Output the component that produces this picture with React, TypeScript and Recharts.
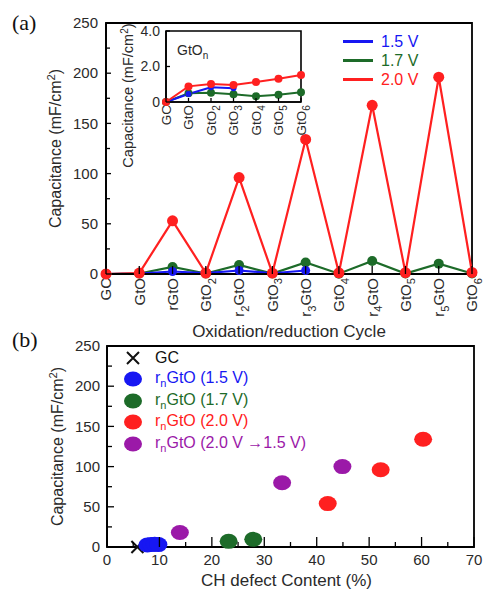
import React from 'react';
import { LineChart, Line, XAxis, YAxis, ScatterChart, Scatter, ReferenceArea, Legend, Label } from 'recharts';

const FONT = '"Liberation Sans", Arial, Helvetica, sans-serif';
const INK = '#2a2a2a';

const BLUE = '#1717f2';
const GREEN = '#1d6b29';
const RED = '#ff2020';
const PURPLE = '#9b19a8';

// (a) capacitance per oxidation/reduction step
const cycles = ['GC', 'GtO', 'rGtO', 'GtO2', 'r2GtO', 'GtO3', 'r3GtO', 'GtO4', 'r4GtO', 'GtO5', 'r5GtO', 'GtO6'];
const cap15V = [0, 0.45, 2.5, 0.83, 3.5, 0.77, 3.5, null, null, null, null, null];
const cap17V = [0, 0.49, 7, 0.52, 9, 0.43, 11.5, 0.32, 13, 0.41, 10.3, 0.55];
const cap20V = [0, 0.88, 53, 1.01, 96, 0.96, 134, 1.13, 168, 1.31, 196, 1.52];
const capTicks = [0, 25, 50, 75, 100, 125, 150, 175, 200, 225, 250];

// inset: GtOn only
const insetCycles = ['GC', 'GtO', 'GtO2', 'GtO3', 'GtO4', 'GtO5', 'GtO6'];
const inset15V = [0, 0.45, 0.83, 0.77, null, null, null];
const inset17V = [0, 0.49, 0.52, 0.43, 0.32, 0.41, 0.55];
const inset20V = [0, 0.88, 1.01, 0.96, 1.13, 1.31, 1.52];
const insetTicks = [0, 2, 4];

// (b) capacitance vs CH defect content
const gcDefect = [5.8];
const gcCap = [0];
const r15Defect = [7.7, 8.4, 9.1, 9.8];
const r15Cap = [2.5, 3, 3.5, 3];
const r17Defect = [23.2, 27.9];
const r17Cap = [7, 9.5];
const r20Defect = [42.1, 52.2, 60.3];
const r20Cap = [54, 96, 134];
const r2015Defect = [13.9, 33.4, 44.9];
const r2015Cap = [18, 80, 100];
const defectTicks = [0, 5, 10, 15, 20, 25, 30, 35, 40, 45, 50, 55, 60, 65, 70];

const voltageNames = ['1.5 V', '1.7 V', '2.0 V'];
const voltageColors = [BLUE, GREEN, RED];
const scatterNames = ['GC', '(1.5 V)', '(1.7 V)', '(2.0 V)', '(2.0 V \u21921.5 V)'];
const scatterColors = ['#111', BLUE, GREEN, RED, PURPLE];

const mainData = cycles.map((c, i) => ({ cycle: c, v15: cap15V[i], v17: cap17V[i], v20: cap20V[i] }));
const insetData = insetCycles.map((c, i) => ({ cycle: c, v15: inset15V[i], v17: inset17V[i], v20: inset20V[i] }));
const pairs = (xs: number[], ys: number[]) => xs.map((d, i) => ({ defect: d, cap: ys[i] }));

// digits in labels like "r2GtO" become subscripts
const subParts = (text: string, fs: number) => {
  let shifted = false;
  return text.split(/(\d)/).filter(Boolean).map((p, i) => {
    const isSub = /\d/.test(p);
    const dy = isSub ? fs * 0.3 : shifted ? -fs * 0.3 : 0;
    shifted = isSub;
    return <tspan key={i} dy={dy} fontSize={isSub ? fs * 0.75 : fs}>{p}</tspan>;
  });
};

const CycleTick = ({ x, y, payload, gap, len, fontSize }: any) => (
  <g>
    <line x1={x} x2={x} y1={y - gap} y2={y - gap - len} stroke="#000" strokeWidth={1.3} />
    <text transform={`translate(${x + fontSize * 0.36},${y}) rotate(-90)`} textAnchor="end"
      fontSize={fontSize} fill={INK} fontFamily={FONT}>
      {subParts(String(payload.value), fontSize)}
    </text>
  </g>
);

const ValueTick = ({ x, y, payload, step, gap, len, minorLen, fontSize, digits }: any) => {
  const v = payload.value;
  const major = Math.abs(v / step - Math.round(v / step)) < 1e-6;
  const ax = x + gap;
  return (
    <g>
      <line x1={ax} x2={ax + (major ? len : minorLen)} y1={y} y2={y} stroke="#000" strokeWidth={1.3} />
      {major && (
        <text x={x} y={y} dy={fontSize * 0.35} textAnchor="end" fontSize={fontSize} fill={INK} fontFamily={FONT}>
          {digits && v !== 0 ? v.toFixed(digits) : v}
        </text>
      )}
    </g>
  );
};

const DefectTick = ({ x, y, payload }: any) => {
  const v = payload.value;
  const major = v % 10 === 0;
  return (
    <g>
      <line x1={x} x2={x} y1={y} y2={y - (major ? 10 : 5)} stroke="#000" strokeWidth={1.3} />
      {major && (
        <text x={x} y={y + 18} textAnchor="middle" fontSize={15} fill={INK} fontFamily={FONT}>{v}</text>
      )}
    </g>
  );
};

const CapTitle = ({ x, y, fs }: { x: number; y: number; fs: number }) => (
  <text transform={`translate(${x + fs * 0.36},${y}) rotate(-90)`} textAnchor="middle"
    fontSize={fs} fill={INK} fontFamily={FONT}>
    Capacitance (mF/cm<tspan dy={-fs * 0.35} fontSize={fs * 0.7}>2</tspan><tspan dy={fs * 0.35}>)</tspan>
  </text>
);

const VoltageLegend = () => (
  <div style={{ fontFamily: FONT, fontSize: 16 }}>
    {voltageNames.map((n, i) => (
      <div key={n} style={{ display: 'flex', alignItems: 'center', height: 19 }}>
        <span style={{ width: 30, height: 3, background: voltageColors[i], marginRight: 8 }} />
        <span style={{ color: voltageColors[i] }}>{n}</span>
      </div>
    ))}
  </div>
);

const ScatterLegend = () => (
  <div style={{ fontFamily: FONT, fontSize: 16 }}>
    {scatterNames.map((n, i) => (
      <div key={n} style={{ display: 'flex', alignItems: 'center', height: 21.5 }}>
        <svg width={18} height={16} style={{ marginRight: 13 }}>
          {i === 0
            ? <path d="M3,2L15,14M3,14L15,2" stroke="#111" strokeWidth={2} />
            : <ellipse cx={9} cy={8} rx={9} ry={7.5} fill={scatterColors[i]} />}
        </svg>
        <span style={{ color: scatterColors[i] }}>
          {i === 0 ? n : <>r<sub style={{ fontSize: 11 }}>n</sub>GtO {n}</>}
        </span>
      </div>
    ))}
  </div>
);

const CrossShape = ({ cx, cy }: any) => (
  <path d={`M${cx - 6},${cy - 6}L${cx + 6},${cy + 6}M${cx - 6},${cy + 6}L${cx + 6},${cy - 6}`} stroke="#111" strokeWidth={2} />
);
const blob = (color: string) => ({ cx, cy }: any) => <ellipse cx={cx} cy={cy} rx={9} ry={7.5} fill={color} />;

export default function App() {
  return (
    <div style={{ position: 'absolute', left: 0, top: 0, width: 483, height: 591, background: '#fff', overflow: 'hidden' }}>
      {/* (a) main */}
      <div style={{ position: 'absolute', left: 0, top: 0 }}>
        <LineChart width={483} height={340} data={mainData} margin={{ top: 23, right: 11, left: 0, bottom: 0 }}>
          <XAxis dataKey="cycle" scale="point" interval={0} height={66} tickSize={0} tickMargin={4}
            axisLine={{ stroke: '#000', strokeWidth: 1.8 }} tickLine={false}
            tick={(p: any) => <CycleTick {...p} gap={4} len={8} fontSize={15} />}>
            <Label content={(p: any) => (
              <text x={p.viewBox.x + p.viewBox.width / 2} y={p.viewBox.y + 63} textAnchor="middle"
                fontSize={17} fill={INK} fontFamily={FONT}>Oxidation/reduction Cycle</text>
            )} />
          </XAxis>
          <YAxis domain={[0, 250]} ticks={capTicks} interval={0} width={106} tickSize={0} tickMargin={8}
            axisLine={{ stroke: '#000', strokeWidth: 1.8 }} tickLine={false}
            tick={(p: any) => <ValueTick {...p} step={50} gap={8} len={5} minorLen={4} fontSize={15} />}>
            <Label content={(p: any) => <CapTitle x={p.viewBox.x + 55} y={p.viewBox.y + p.viewBox.height / 2} fs={16} />} />
          </YAxis>
          <ReferenceArea x1="GC" x2="GtO6" y1={0} y2={250} fill="none" stroke="#000" strokeWidth={1.8} />
          <Legend layout="horizontal" verticalAlign="middle" align="center" content={() => <VoltageLegend />}
            wrapperStyle={{ left: 343, top: 32, width: 120, height: 'auto' }} />
          <Line dataKey="v17" stroke={GREEN} strokeWidth={2.2} dot={{ r: 5, fill: GREEN, stroke: 'none' }} isAnimationActive={false} />
          <Line dataKey="v15" stroke={BLUE} strokeWidth={2.2} dot={{ r: 4.5, fill: BLUE, stroke: 'none' }} isAnimationActive={false} />
          <Line dataKey="v20" stroke={RED} strokeWidth={2.2} dot={{ r: 5.5, fill: RED, stroke: 'none' }} isAnimationActive={false} />
        </LineChart>
      </div>

      {/* (a) inset */}
      <div style={{ position: 'absolute', left: 100, top: 0 }}>
        <LineChart width={215} height={175} data={insetData} margin={{ top: 31, right: 14, left: 0, bottom: 0 }}>
          <XAxis dataKey="cycle" scale="point" interval={0} height={73} tickSize={0} tickMargin={3}
            axisLine={{ stroke: '#000', strokeWidth: 1.6 }} tickLine={false}
            tick={(p: any) => <CycleTick {...p} gap={3} len={4} fontSize={13.5} />} />
          <YAxis domain={[0, 4]} ticks={insetTicks} interval={0} width={66} tickSize={0} tickMargin={6}
            axisLine={{ stroke: '#000', strokeWidth: 1.6 }} tickLine={false}
            tick={(p: any) => <ValueTick {...p} step={2} gap={6} len={4} minorLen={3} fontSize={14} digits={1} />}>
            <Label content={(p: any) => <CapTitle x={p.viewBox.x + 28} y={p.viewBox.y + p.viewBox.height / 2 + 29} fs={14.5} />} />
          </YAxis>
          <ReferenceArea x1="GC" x2="GtO6" y1={0} y2={4} fill="none" stroke="#000" strokeWidth={1.6}>
            <Label content={(p: any) => (
              <text x={p.viewBox.x + 11} y={p.viewBox.y + 24} fontSize={14} fill={INK} fontFamily={FONT}>
                GtO<tspan dy={4} fontSize={10}>n</tspan>
              </text>
            )} />
          </ReferenceArea>
          <Line dataKey="v17" stroke={GREEN} strokeWidth={2} dot={{ r: 4, fill: GREEN, stroke: 'none' }} isAnimationActive={false} />
          <Line dataKey="v15" stroke={BLUE} strokeWidth={2} dot={{ r: 3, fill: BLUE, stroke: 'none' }} isAnimationActive={false} />
          <Line dataKey="v20" stroke={RED} strokeWidth={2} dot={{ r: 4, fill: RED, stroke: 'none' }} isAnimationActive={false} />
        </LineChart>
      </div>

      {/* (b) */}
      <div style={{ position: 'absolute', left: 0, top: 330 }}>
        <ScatterChart width={483} height={261} margin={{ top: 16, right: 9, left: 0, bottom: 0 }}>
          <XAxis type="number" dataKey="defect" domain={[0, 70]} ticks={defectTicks} interval={0} height={44}
            tickSize={0} tickMargin={0} axisLine={{ stroke: '#000', strokeWidth: 1.8 }} tickLine={false}
            tick={(p: any) => <DefectTick {...p} />}>
            <Label content={(p: any) => (
              <text x={p.viewBox.x + p.viewBox.width / 2 - 4} y={p.viewBox.y + 39} textAnchor="middle"
                fontSize={17} fill={INK} fontFamily={FONT}>CH defect Content (%)</text>
            )} />
          </XAxis>
          <YAxis type="number" dataKey="cap" domain={[0, 250]} ticks={capTicks} interval={0} width={107}
            tickSize={0} tickMargin={7} axisLine={{ stroke: '#000', strokeWidth: 1.8 }} tickLine={false}
            tick={(p: any) => <ValueTick {...p} step={50} gap={7} len={7} minorLen={5} fontSize={15} />}>
            <Label content={(p: any) => <CapTitle x={p.viewBox.x + 57} y={p.viewBox.y + p.viewBox.height / 2} fs={16} />} />
          </YAxis>
          <ReferenceArea x1={0} x2={70} y1={0} y2={250} fill="none" stroke="#000" strokeWidth={1.8} />
          <Legend layout="horizontal" verticalAlign="middle" align="center" content={() => <ScatterLegend />}
            wrapperStyle={{ left: 124, top: 17, width: 260, height: 'auto' }} />
          <Scatter data={pairs(gcDefect, gcCap)} shape={CrossShape} isAnimationActive={false} />
          <Scatter data={pairs(r15Defect, r15Cap)} shape={blob(BLUE)} isAnimationActive={false} />
          <Scatter data={pairs(r17Defect, r17Cap)} shape={blob(GREEN)} isAnimationActive={false} />
          <Scatter data={pairs(r20Defect, r20Cap)} shape={blob(RED)} isAnimationActive={false} />
          <Scatter data={pairs(r2015Defect, r2015Cap)} shape={blob(PURPLE)} isAnimationActive={false} />
        </ScatterChart>
      </div>

      {/* panel letters */}
      <svg width={483} height={591} style={{ position: 'absolute', left: 0, top: 0, pointerEvents: 'none' }}>
        <text x={12} y={30} fontSize={22} fontFamily='"Liberation Serif", "Times New Roman", serif' fill="#111">(a)</text>
        <text x={12} y={347} fontSize={22} fontFamily='"Liberation Serif", "Times New Roman", serif' fill="#111">(b)</text>
      </svg>
    </div>
  );
}
